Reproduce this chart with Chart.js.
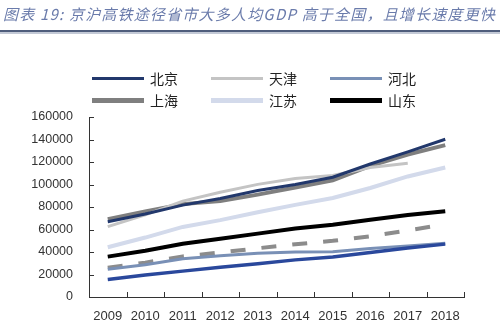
<!DOCTYPE html>
<html>
<head>
<meta charset="utf-8">
<script src="https://cdn.jsdelivr.net/npm/chart.js@4.4.0/dist/chart.umd.min.js"></script>
<style>
  body { margin: 0; background: #fff; }
  #wrap { position: relative; width: 500px; height: 336px; overflow: hidden; }
  #title {
    position: absolute; left: 3px; top: 3px; width: 497px;
    font: italic 15px "Noto Sans CJK SC", sans-serif; color: #6a7bab;
    letter-spacing: 1.2px; white-space: nowrap;
  }
  #rule {
    position: absolute; left: 0; top: 30px; width: 500px; height: 2px;
    background: #4f5d7c; box-shadow: 0 2px 0 #c3c9d6;
  }
  #legend { position: absolute; left: 92px; top: 68px; }
  .item { position: absolute; width: 120px; height: 20px; }
  .item span.line { position: absolute; left: 0; width: 52px; }
  .item span.txt {
    position: absolute; left: 58px; top: 0; line-height: 20px;
    font: 14px "Noto Sans CJK SC", sans-serif; color: #222;
  }
  canvas { position: absolute; left: 0; top: 0; }
</style>
</head>
<body>
<div id="wrap">
  <canvas id="gdpChart" width="500" height="336"></canvas>
  <div id="title">图表 19: 京沪高铁途径省市大多人均GDP 高于全国，且增长速度更快</div>
  <div id="rule"></div>
  <div id="legend"></div>
</div>
<script>
// 年份
const years = ['2009', '2010', '2011', '2012', '2013', '2014', '2015', '2016', '2017', '2018'];

// 人均GDP（元）
const beijing  = [66940, 73856, 81658, 87475, 94648, 99995, 106497, 118198, 128994, 140211];
const tianjin  = [62574, 72994, 85213, 93173, 100105, 105231, 107960, 115053, 118944, null];
const hebei    = [24581, 28668, 33969, 36584, 38909, 39984, 40255, 43062, 45387, 47772];
const shanghai = [69164, 76074, 82560, 85373, 90993, 97370, 103796, 116562, 126634, 134982];
const jiangsu  = [44253, 52840, 62290, 68347, 75354, 81874, 87995, 96887, 107150, 115168];
const shandong = [35894, 41106, 47335, 51768, 56323, 60879, 64168, 68733, 72807, 76267];
// 图例外的两条线
const national = [25963, 30567, 36018, 39544, 43320, 46912, 49922, 53980, 59201, 64644];
const lowBlue  = [15500, 19500, 23000, 26500, 29500, 33000, 35500, 39500, 43500, 47000];

const yTicks = [0, 20000, 40000, 60000, 80000, 100000, 120000, 140000, 160000];

function line(label, data, color, width, extra) {
    return Object.assign({
        label: label,
        data: data,
        borderColor: color,
        backgroundColor: color,
        borderWidth: width,
        pointRadius: 0,
        tension: 0,
        fill: false,
        spanGaps: false
    }, extra || {});
}

const datasets = [
    line('北京', beijing, '#22386c', 3),
    line('天津', tianjin, '#c4c4c4', 3),
    line('河北', hebei, '#7990b6', 3),
    line('上海', shanghai, '#7f7f7f', 4),
    line('江苏', jiangsu, '#d3daeb', 4),
    line('山东', shandong, '#000000', 4),
    line('全国', national, '#8c8c8c', 4, { borderDash: [15, 16], showInLegend: false }),
    line('', lowBlue, '#2a489c', 3.5, { order: -1, showInLegend: false })
];

// 图例（两行三列）
const legendEl = document.getElementById('legend');
datasets.filter(d => d.showInLegend !== false).forEach((d, i) => {
    const col = i % 3, row = Math.floor(i / 3);
    const item = document.createElement('div');
    item.className = 'item';
    item.style.left = (col * 119) + 'px';
    item.style.top = (row * 22) + 'px';
    const h = d.borderWidth >= 4 ? 5 : 3;
    item.innerHTML = '<span class="line" style="top:' + (10 - h / 2) + 'px;height:' + h +
        'px;background:' + d.borderColor + '"></span><span class="txt">' + d.label + '</span>';
    legendEl.appendChild(item);
});

// 坐标轴内侧刻度
const innerTicks = {
    id: 'innerTicks',
    afterDraw(chart) {
        const ctx = chart.ctx, area = chart.chartArea;
        const y = chart.scales.y;
        ctx.save();
        ctx.strokeStyle = '#333';
        ctx.lineWidth = 1;
        ctx.beginPath();
        y.ticks.forEach(t => {
            const py = Math.round(y.getPixelForValue(t.value)) + 0.5;
            ctx.moveTo(area.left, py);
            ctx.lineTo(area.left + 5, py);
        });
        const step = (area.right - area.left) / years.length;
        for (let i = 1; i <= years.length; i++) {
            const px = Math.round(area.left + i * step) + 0.5;
            ctx.moveTo(px, area.bottom);
            ctx.lineTo(px, area.bottom - 5);
        }
        ctx.stroke();
        ctx.restore();
    }
};

new Chart(document.getElementById('gdpChart'), {
    type: 'line',
    data: { labels: years, datasets: datasets },
    options: {
        responsive: false,
        animation: false,
        layout: { padding: { top: 117, right: 36, left: 0, bottom: 0 } },
        plugins: { legend: { display: false }, tooltip: { enabled: false } },
        scales: {
            x: {
                offset: true,
                grid: { display: false, drawTicks: false },
                border: { display: true, color: '#333', width: 1 },
                ticks: { color: '#333', padding: 12, font: { family: 'Liberation Sans', size: 13 } },
                afterFit: s => { s.height = 39; }
            },
            y: {
                min: 0,
                max: 160000,
                afterBuildTicks: s => { s.ticks = yTicks.map(v => ({ value: v })); },
                grid: { display: false, drawTicks: false },
                border: { display: true, color: '#333', width: 1 },
                ticks: { color: '#333', padding: 16, callback: v => v, font: { family: 'Liberation Sans', size: 12.5 } },
                afterFit: s => { s.width = 89; }
            }
        }
    },
    plugins: [innerTicks]
});
</script>
</body>
</html>
